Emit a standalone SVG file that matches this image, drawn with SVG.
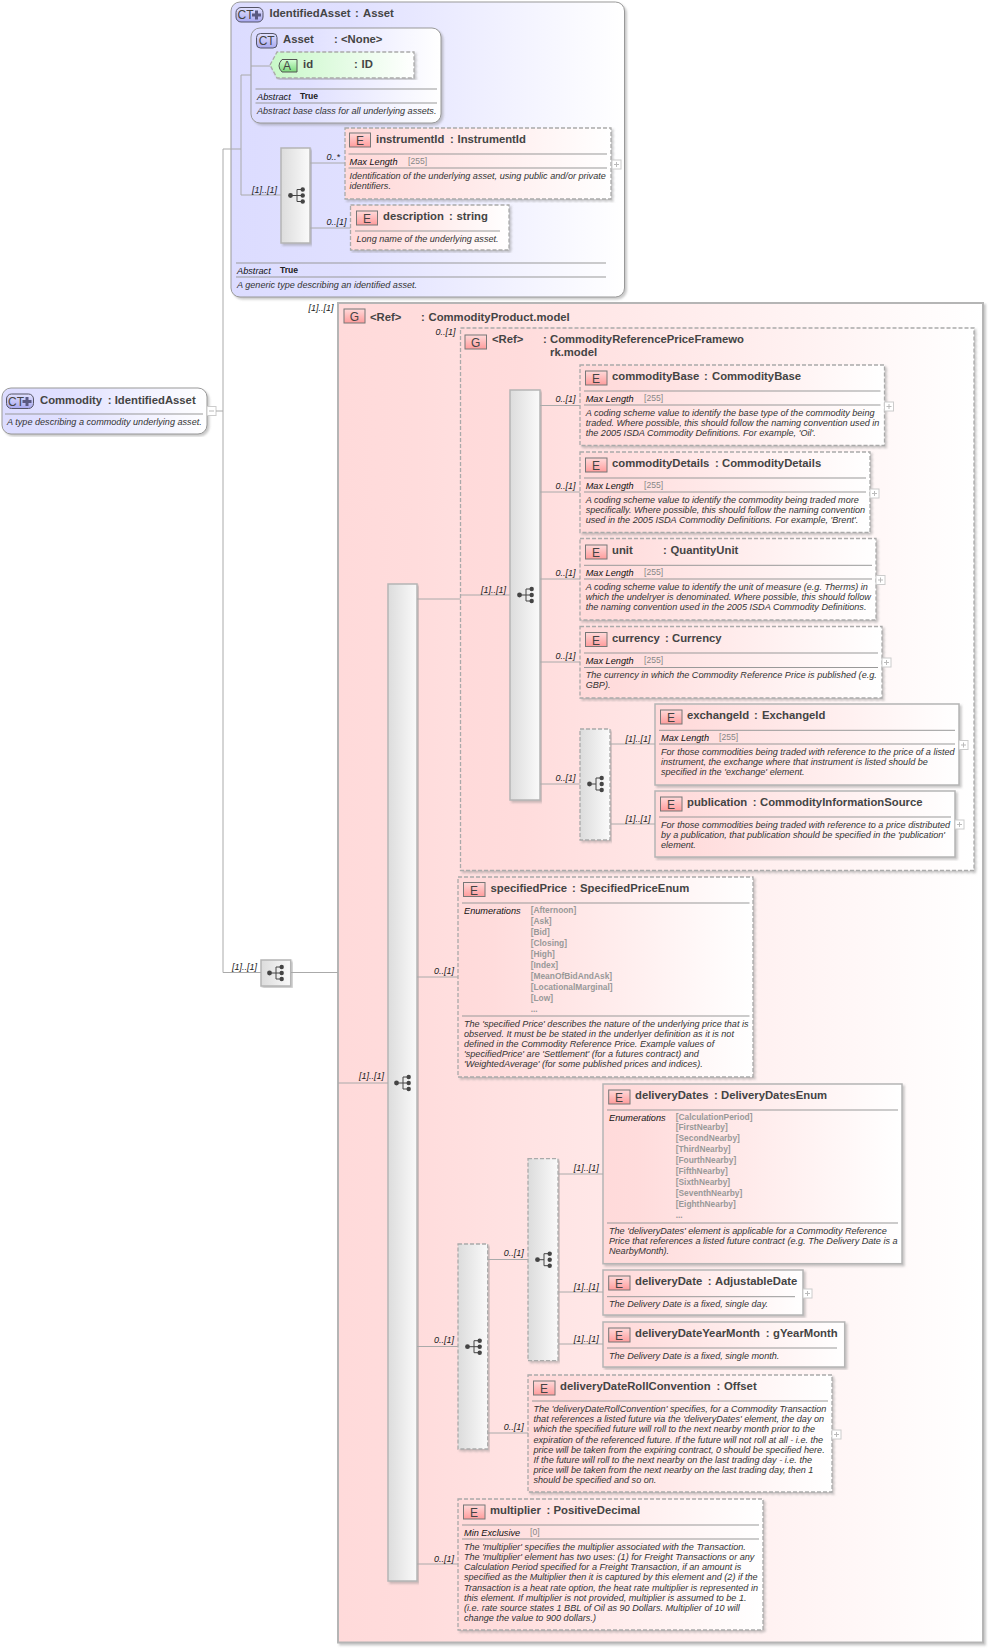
<svg xmlns="http://www.w3.org/2000/svg" width="989" height="1648" viewBox="0 0 989 1648">
<style>
text{font-family:"Liberation Sans",Arial,sans-serif}
.t{font-size:11.3px;font-weight:bold;fill:#444}
.d{font-size:9.1px;font-style:italic;fill:#333}
.k{font-size:9.2px;font-style:italic;fill:#111}
.v{font-size:8.6px;fill:#888}
.e{font-size:8.4px;font-weight:bold;fill:#999}
.b{font-size:8.6px;font-weight:bold;fill:#222}
.c{font-size:9px;font-style:italic;fill:#222}
.il{font-size:12px;fill:#444;text-anchor:middle}
.ln{fill:none;stroke:#aaa;stroke-width:1}
.r{stroke:#999;stroke-width:1}
.hr{stroke:#999;stroke-width:1}
.ds{stroke-dasharray:4 2;stroke:#aaa;stroke-width:1.3}
.so{stroke:#b5b5b5;stroke-width:1.5}
.pk{fill:url(#pk)}.lv{fill:url(#lv)}.gy{fill:url(#gy)}
.sh{filter:url(#sh)}
.ie{fill:url(#ie);stroke:#777;stroke-width:1}
.ict{fill:url(#ict);stroke:#556;stroke-width:1}
.ib{fill:#fff;stroke:#ccc;stroke-width:1}
.ibl{stroke:#bbb;stroke-width:1}
</style>
<defs>
<linearGradient id="pk"><stop offset="0" stop-color="#ffdada"/><stop offset=".12" stop-color="#ffdcdc"/><stop offset="1" stop-color="#fff"/></linearGradient>
<linearGradient id="lv"><stop offset="0" stop-color="#dcdcff"/><stop offset=".3" stop-color="#e0e0ff"/><stop offset="1" stop-color="#fff"/></linearGradient>
<linearGradient id="gn"><stop offset="0" stop-color="#c8f8c8"/><stop offset="1" stop-color="#fff"/></linearGradient>
<linearGradient id="gy"><stop offset="0" stop-color="#dcdcdc"/><stop offset="1" stop-color="#fafafa"/></linearGradient>
<linearGradient id="ie" x2="0" y2="1"><stop offset="0" stop-color="#ffdada"/><stop offset="1" stop-color="#ff9c9c"/></linearGradient>
<linearGradient id="ict" x2="0" y2="1"><stop offset="0" stop-color="#e2e2ff"/><stop offset="1" stop-color="#a8a8f0"/></linearGradient>
<linearGradient id="ia" x2="0" y2="1"><stop offset="0" stop-color="#d8ffd8"/><stop offset="1" stop-color="#7ad87a"/></linearGradient>
<filter id="sh" x="-5%" y="-5%" width="110%" height="110%"><feDropShadow dx="2" dy="2" stdDeviation="1" flood-color="#888" flood-opacity=".45"/></filter>
<g id="seq"><circle cx="-6.5" cy="0" r="2.4" fill="#444"/><path d="M-6 0H5.5M0 -6V6M0 -6H5.5M0 6H5.5" fill="none" stroke="#444" stroke-width="1"/><circle cx="5.7" cy="-6" r="2.2" fill="#444"/><circle cx="5.7" cy="0" r="2.2" fill="#444"/><circle cx="5.7" cy="6" r="2.2" fill="#444"/></g>
<g id="cho"><circle cx="-6.5" cy="0" r="2.4" fill="#444"/><path d="M-6 0H0M0 -6V6H5.5M0 -6H5.5" fill="none" stroke="#444" stroke-width="1"/><circle cx="5.7" cy="-6" r="2.2" fill="#444"/><circle cx="5.7" cy="0" r="2.2" fill="#444"/><circle cx="5.7" cy="6" r="2.2" fill="#444"/></g>
<g id="plus"><rect class="ib" width="9" height="9"/><path class="ibl" d="M2 4.5H7M4.5 2V7"/></g>
<g id="minus"><rect class="ib" width="9" height="9"/><path class="ibl" d="M2 4.5H7"/></g>
<path id="cross" d="M-1.5 -4.5H1.5V-1.5H4.5V1.5H1.5V4.5H-1.5V1.5H-4.5V-1.5H-1.5Z" fill="#5a5a82"/>
</defs>
<rect width="989" height="1648" fill="#fff"/>

<g id="node-commodity">
<rect class="lv r sh" x="2" y="388" width="205" height="46" rx="9"/>
<rect class="ict" x="6.5" y="394" width="27" height="14.5" rx="5"/><text class="il" x="16" y="405.5">CT</text><use href="#cross" transform="translate(27 401.5)"/>
<text class="t" x="40" y="403.5">Commodity<tspan x="107.7">:</tspan><tspan x="114.7">IdentifiedAsset</tspan></text>
<path class="hr" d="M5 414H203"/>
<text class="d" x="7" y="425">A type describing a commodity underlying asset.</text>
<use href="#minus" x="207" y="406.5"/>
</g>

<g id="node-identifiedasset">
<rect class="lv r sh" x="231" y="2" width="393.500" height="295" rx="9"/>
<rect class="ict" x="236" y="7.500" width="27" height="14.5" rx="5"/><text class="il" x="245.500" y="19">CT</text><use href="#cross" transform="translate(256.500 15)"/>
<text class="t" x="269.500" y="17">IdentifiedAsset<tspan x="355">:</tspan><tspan x="363">Asset</tspan></text>
<path class="hr" d="M236 263H606M236 277H606"/>
<text class="k" x="237" y="274">Abstract</text><text class="b" x="280" y="273">True</text>
<text class="d" x="237" y="288">A generic type describing an identified asset.</text>
</g>
<g id="node-asset">
<rect class="lv r sh" x="251" y="28" width="190" height="95" rx="9"/>
<rect class="ict" x="256.500" y="33.500" width="20.5" height="14.5" rx="4"/><text class="il" x="266.700" y="45">CT</text>
<text class="t" x="283" y="43">Asset<tspan x="334">:</tspan><tspan x="341">&lt;None&gt;</tspan></text>
<path class="hr" d="M255.500 89H437M255.500 103H437"/>
<text class="k" x="257" y="100">Abstract</text><text class="b" x="300" y="99">True</text>
<text class="d" x="257" y="114">Abstract base class for all underlying assets.</text>
</g>
<g id="node-id">
<path class="ds sh" fill="url(#gn)" d="M270 65L277 52H414V78H277Z"/>
<path d="M282 59.500H297V72H282Q276 66 282 59.500Z" fill="url(#ia)" stroke="#555"/><text class="il" x="287" y="70">A</text>
<text class="t" x="303" y="68">id<tspan x="354">:</tspan><tspan x="361.500">ID</tspan></text>
</g>
<g id="node-seq-asset">
<rect class="gy so sh" x="281" y="148" width="29" height="95"/><use href="#seq" x="297" y="195.500"/>
</g>
<g id="node-instrumentid">
<rect class="pk ds sh" x="345" y="128" width="266" height="71"/>
<rect class="ie" x="349.500" y="133" width="21" height="14"/><text class="il" x="360" y="145">E</text>
<text class="t" x="376" y="143">instrumentId<tspan x="450">:</tspan><tspan x="457.500">InstrumentId</tspan></text>
<path class="hr" d="M348.500 154H607M348.500 168H607"/>
<text class="k" x="349.500" y="165">Max Length</text><text class="v" x="408" y="164">[255]</text>
<text class="d" x="349.500" y="179">Identification of the underlying asset, using public and/or private</text>
<text class="d" x="349.500" y="189">identifiers.</text>
<use href="#plus" x="612" y="160"/>
</g>
<g id="node-description">
<rect class="pk ds sh" x="350.500" y="205" width="158.500" height="45"/>
<rect class="ie" x="356.500" y="211" width="21" height="14"/><text class="il" x="367" y="223">E</text>
<text class="t" x="383" y="220">description<tspan x="449">:</tspan><tspan x="456.500">string</tspan></text>
<path class="hr" d="M355 231H500"/>
<text class="d" x="356.500" y="242">Long name of the underlying asset.</text>
</g>

<g id="node-commodityproduct">
<rect class="pk sh" x="338" y="303" width="645" height="1339.500" stroke="#b5b5b5" stroke-width="2"/>
<rect class="ie" x="344" y="309" width="21" height="14"/><text class="il" x="354.500" y="321">G</text>
<text class="t" x="370" y="321">&lt;Ref&gt;<tspan x="421">:</tspan><tspan x="428.500">CommodityProduct.model</tspan></text>
</g>
<g id="node-seq-outer">
<rect class="gy so sh" x="388" y="584" width="29" height="997"/><use href="#seq" x="403" y="1083"/>
</g>
<g id="node-pricegroup">
<rect class="pk ds sh" x="460.500" y="328" width="513.500" height="542.500"/>
<rect class="ie" x="465" y="335" width="21.500" height="14"/><text class="il" x="475.700" y="347">G</text>
<text class="t" x="492" y="343">&lt;Ref&gt;<tspan x="543">:</tspan><tspan x="550">CommodityReferencePriceFramewo</tspan><tspan x="550" y="356">rk.model</tspan></text>
</g>
<g id="node-seq-price">
<rect class="gy so sh" x="510" y="390" width="30" height="410"/><use href="#seq" x="526" y="595"/>
</g>
<g id="node-commoditybase">
<rect class="pk ds sh" x="580" y="365" width="304.500" height="80.500"/>
<rect class="ie" x="585.500" y="371" width="21.500" height="14"/><text class="il" x="596" y="383">E</text>
<text class="t" x="612" y="380">commodityBase<tspan x="704">:</tspan><tspan x="712">CommodityBase</tspan></text>
<path class="hr" d="M584 391H880.500M584 405H880.500"/>
<text class="k" x="585.700" y="402">Max Length</text><text class="v" x="644" y="401">[255]</text>
<text class="d" x="585.700" y="416">A coding scheme value to identify the base type of the commodity being</text>
<text class="d" x="585.700" y="426">traded. Where possible, this should follow the naming convention used in</text>
<text class="d" x="585.700" y="436">the 2005 ISDA Commodity Definitions. For example, 'Oil'.</text>
<use href="#plus" x="884.500" y="402"/>
</g>
<g id="node-commoditydetails">
<rect class="pk ds sh" x="580" y="452" width="290" height="80.500"/>
<rect class="ie" x="585.500" y="458" width="21.500" height="14"/><text class="il" x="596" y="470">E</text>
<text class="t" x="612" y="467">commodityDetails<tspan x="715">:</tspan><tspan x="722">CommodityDetails</tspan></text>
<path class="hr" d="M584 478H866M584 492H866"/>
<text class="k" x="585.700" y="489">Max Length</text><text class="v" x="644" y="488">[255]</text>
<text class="d" x="585.700" y="503">A coding scheme value to identify the commodity being traded more</text>
<text class="d" x="585.700" y="513">specifically. Where possible, this should follow the naming convention</text>
<text class="d" x="585.700" y="523">used in the 2005 ISDA Commodity Definitions. For example, 'Brent'.</text>
<use href="#plus" x="870" y="489"/>
</g>
<g id="node-unit">
<rect class="pk ds sh" x="580" y="538.500" width="296" height="81.500"/>
<rect class="ie" x="585.500" y="545" width="21.500" height="14"/><text class="il" x="596" y="557">E</text>
<text class="t" x="612" y="554">unit<tspan x="663">:</tspan><tspan x="670.500">QuantityUnit</tspan></text>
<path class="hr" d="M584 565.300H872M584 579H872"/>
<text class="k" x="585.700" y="576">Max Length</text><text class="v" x="644" y="575">[255]</text>
<text class="d" x="585.700" y="590">A coding scheme value to identify the unit of measure (e.g. Therms) in</text>
<text class="d" x="585.700" y="600">which the undelryer is denominated. Where possible, this should follow</text>
<text class="d" x="585.700" y="610">the naming convention used in the 2005 ISDA Commodity Definitions.</text>
<use href="#plus" x="876" y="575.500"/>
</g>
<g id="node-currency">
<rect class="pk ds sh" x="580" y="626.500" width="302" height="71.500"/>
<rect class="ie" x="585.500" y="632.500" width="21.500" height="14"/><text class="il" x="596" y="644.500">E</text>
<text class="t" x="612" y="642">currency<tspan x="665">:</tspan><tspan x="672">Currency</tspan></text>
<path class="hr" d="M584 653H878M584 667.500H878"/>
<text class="k" x="585.700" y="664">Max Length</text><text class="v" x="644" y="663">[255]</text>
<text class="d" x="585.700" y="678">The currency in which the Commodity Reference Price is published (e.g.</text>
<text class="d" x="585.700" y="688">GBP).</text>
<use href="#plus" x="882" y="658"/>
</g>
<g id="node-choice-exchange">
<rect class="gy ds sh" x="580" y="729" width="30" height="111"/><use href="#cho" x="596" y="784"/>
</g>
<g id="node-exchangeid">
<rect class="pk so sh" x="655" y="704" width="304" height="81"/>
<rect class="ie" x="660.500" y="710" width="21.500" height="14"/><text class="il" x="671" y="722">E</text>
<text class="t" x="687" y="719">exchangeId<tspan x="754">:</tspan><tspan x="762">ExchangeId</tspan></text>
<path class="hr" d="M659 730.300H955M659 744H955"/>
<text class="k" x="661" y="741">Max Length</text><text class="v" x="719" y="740">[255]</text>
<text class="d" x="661" y="755">For those commodities being traded with reference to the price of a listed</text>
<text class="d" x="661" y="765">instrument, the exchange where that instrument is listed should be</text>
<text class="d" x="661" y="775">specified in the 'exchange' element.</text>
<use href="#plus" x="959" y="740.500"/>
</g>
<g id="node-publication">
<rect class="pk so sh" x="655" y="791" width="300" height="66"/>
<rect class="ie" x="660.500" y="797" width="21.500" height="14"/><text class="il" x="671" y="809">E</text>
<text class="t" x="687" y="806">publication<tspan x="752.700">:</tspan><tspan x="760">CommodityInformationSource</tspan></text>
<path class="hr" d="M659 817H951"/>
<text class="d" x="661" y="828">For those commodities being traded with reference to a price distributed</text>
<text class="d" x="661" y="838">by a publication, that publication should be specified in the 'publication'</text>
<text class="d" x="661" y="848">element.</text>
<use href="#plus" x="955" y="820"/>
</g>
<g id="node-specifiedprice">
<rect class="pk ds sh" x="458" y="877" width="295" height="200"/>
<rect class="ie" x="463.500" y="882.500" width="21.500" height="14"/><text class="il" x="474" y="894.500">E</text>
<text class="t" x="490.500" y="892">specifiedPrice<tspan x="572">:</tspan><tspan x="580">SpecifiedPriceEnum</tspan></text>
<path class="hr" d="M462 903H749.500M462 1016H749.500"/>
<text class="k" x="464" y="914">Enumerations</text>
<text class="e" x="530.700" y="913">[Afternoon]</text>
<text class="e" x="530.700" y="923.500">[Ask]</text>
<text class="e" x="530.700" y="934.500">[Bid]</text>
<text class="e" x="530.700" y="945.500">[Closing]</text>
<text class="e" x="530.700" y="956.500">[High]</text>
<text class="e" x="530.700" y="967.500">[Index]</text>
<text class="e" x="530.700" y="978.500">[MeanOfBidAndAsk]</text>
<text class="e" x="530.700" y="989.500">[LocationalMarginal]</text>
<text class="e" x="530.700" y="1000.500">[Low]</text>
<text class="e" x="530.700" y="1012">...</text>
<text class="d" x="464" y="1027">The 'specified Price' describes the nature of the underlying price that is</text>
<text class="d" x="464" y="1037">observed. It must be be stated in the underlyer definition as it is not</text>
<text class="d" x="464" y="1047">defined in the Commodity Reference Price. Example values of</text>
<text class="d" x="464" y="1057">'specifiedPrice' are 'Settlement' (for a futures contract) and</text>
<text class="d" x="464" y="1067">'WeightedAverage' (for some published prices and indices).</text>
</g>
<g id="node-seq-top">
<rect class="gy so sh" x="261" y="960" width="29.700" height="26"/><use href="#seq" x="276" y="973"/>
</g>
<g id="node-choice-delivery">
<rect class="gy ds sh" x="458" y="1244" width="29.700" height="205"/><use href="#seq" x="474" y="1346.700"/>
</g>
<g id="node-choice-dates">
<rect class="gy ds sh" x="528" y="1158.700" width="30" height="202"/><use href="#cho" x="544" y="1259.700"/>
</g>
<g id="node-deliverydates">
<rect class="pk so sh" x="603" y="1084" width="299" height="179.700"/>
<rect class="ie" x="608.700" y="1090" width="21.300" height="14"/><text class="il" x="619" y="1102">E</text>
<text class="t" x="635" y="1099">deliveryDates<tspan x="714">:</tspan><tspan x="721">DeliveryDatesEnum</tspan></text>
<path class="hr" d="M607 1110H898M607 1223H898"/>
<text class="k" x="609" y="1120.700">Enumerations</text>
<text class="e" x="675.700" y="1119.700">[CalculationPeriod]</text>
<text class="e" x="675.700" y="1130">[FirstNearby]</text>
<text class="e" x="675.700" y="1140.700">[SecondNearby]</text>
<text class="e" x="675.700" y="1151.700">[ThirdNearby]</text>
<text class="e" x="675.700" y="1162.700">[FourthNearby]</text>
<text class="e" x="675.700" y="1173.700">[FifthNearby]</text>
<text class="e" x="675.700" y="1184.700">[SixthNearby]</text>
<text class="e" x="675.700" y="1195.700">[SeventhNearby]</text>
<text class="e" x="675.700" y="1206.700">[EighthNearby]</text>
<text class="e" x="675.700" y="1218">...</text>
<text class="d" x="609" y="1234">The 'deliveryDates' element is applicable for a Commodity Reference</text>
<text class="d" x="609" y="1244">Price that references a listed future contract (e.g. The Delivery Date is a</text>
<text class="d" x="609" y="1254">NearbyMonth).</text>
</g>
<g id="node-deliverydate">
<rect class="pk so sh" x="603" y="1270" width="200" height="45"/>
<rect class="ie" x="608.700" y="1276" width="21.300" height="14"/><text class="il" x="619" y="1288">E</text>
<text class="t" x="635" y="1285">deliveryDate<tspan x="707.700">:</tspan><tspan x="715">AdjustableDate</tspan></text>
<path class="hr" d="M607 1296.700H795"/>
<text class="d" x="609" y="1307">The Delivery Date is a fixed, single day.</text>
<use href="#plus" x="803" y="1289"/>
</g>
<g id="node-deliverydateyearmonth">
<rect class="pk so sh" x="603" y="1322" width="241.700" height="45"/>
<rect class="ie" x="608.700" y="1328" width="21.300" height="14"/><text class="il" x="619" y="1340">E</text>
<text class="t" x="635" y="1337">deliveryDateYearMonth<tspan x="765.700">:</tspan><tspan x="773">gYearMonth</tspan></text>
<path class="hr" d="M607 1348H837"/>
<text class="d" x="609" y="1359">The Delivery Date is a fixed, single month.</text>
</g>
<g id="node-rollconvention">
<rect class="pk ds sh" x="528" y="1375" width="304" height="117"/>
<rect class="ie" x="533.500" y="1381" width="21.500" height="14"/><text class="il" x="544" y="1393">E</text>
<text class="t" x="560" y="1390">deliveryDateRollConvention<tspan x="716.600">:</tspan><tspan x="724">Offset</tspan></text>
<path class="hr" d="M532 1401H828"/>
<text class="d" x="533.500" y="1412">The 'deliveryDateRollConvention' specifies, for a Commodity Transaction</text>
<text class="d" x="533.500" y="1422">that references a listed future via the 'deliveryDates' element, the day on</text>
<text class="d" x="533.500" y="1432">which the specified future will roll to the next nearby month prior to the</text>
<text class="d" x="533.500" y="1442.500">expiration of the referenced future. If the future will not roll at all - i.e. the</text>
<text class="d" x="533.500" y="1452.500">price will be taken from the expiring contract, 0 should be specified here.</text>
<text class="d" x="533.500" y="1463">If the future will roll to the next nearby on the last trading day - i.e. the</text>
<text class="d" x="533.500" y="1473">price will be taken from the next nearby on the last trading day, then 1</text>
<text class="d" x="533.500" y="1483">should be specified and so on.</text>
<use href="#plus" x="832" y="1430"/>
</g>
<g id="node-multiplier">
<rect class="pk ds sh" x="458" y="1499" width="305" height="131"/>
<rect class="ie" x="463.500" y="1505" width="21.500" height="14"/><text class="il" x="474" y="1517">E</text>
<text class="t" x="490" y="1514">multiplier<tspan x="546.400">:</tspan><tspan x="553.500">PositiveDecimal</tspan></text>
<path class="hr" d="M462 1525H759M462 1539H759"/>
<text class="k" x="464" y="1536">Min Exclusive</text><text class="v" x="530" y="1535">[0]</text>
<text class="d" x="464" y="1550">The 'multiplier' specifies the multiplier associated with the Transaction.</text>
<text class="d" x="464" y="1560">The 'multiplier' element has two uses: (1) for Freight Transactions or any</text>
<text class="d" x="464" y="1570">Calculation Period specified for a Freight Transaction, if an amount is</text>
<text class="d" x="464" y="1580">specified as the Multiplier then it is captured by this element and (2) if the</text>
<text class="d" x="464" y="1590.500">Transaction is a heat rate option, the heat rate multiplier is represented in</text>
<text class="d" x="464" y="1600.500">this element. If multiplier is not provided, multiplier is assumed to be 1.</text>
<text class="d" x="464" y="1611">(i.e. rate source states 1 BBL of Oil as 90 Dollars. Multiplier of 10 will</text>
<text class="d" x="464" y="1621">change the value to 900 dollars.)</text>
</g>

<g id="connectors">
<path class="ln" d="M216 411H223M223 149V972.500M223 149H241M241 75V195M241 75H251M251 66H270M241 195H281M310 163H345M310 228H350.500M223 972.500H261M291 972.500H338M338 1083H388M417 599H460.500M460.500 595H510M540 405.500H580M540 492H580M540 579H580M540 662H580M540 784H580M610 744H655M610 824H655M417 977H458M417 1346.500H458M488 1259.500H528M558 1174H603M558 1292H603M558 1344H603M488 1433H528M417 1564H458"/>
<text class="c" x="252" y="193">[1]..[1]</text>
<text class="c" x="326.500" y="160">0..*</text>
<text class="c" x="326.500" y="225">0..[1]</text>
<text class="c" x="308.500" y="311">[1]..[1]</text>
<text class="c" x="435.500" y="335">0..[1]</text>
<text class="c" x="232" y="970">[1]..[1]</text>
<text class="c" x="359" y="1079">[1]..[1]</text>
<text class="c" x="481" y="593">[1]..[1]</text>
<text class="c" x="555.500" y="402">0..[1]</text>
<text class="c" x="555.500" y="489">0..[1]</text>
<text class="c" x="555.500" y="576">0..[1]</text>
<text class="c" x="555.500" y="659">0..[1]</text>
<text class="c" x="555.500" y="781">0..[1]</text>
<text class="c" x="625.500" y="741.500">[1]..[1]</text>
<text class="c" x="625.500" y="821.500">[1]..[1]</text>
<text class="c" x="434" y="974">0..[1]</text>
<text class="c" x="434" y="1343">0..[1]</text>
<text class="c" x="434" y="1561.500">0..[1]</text>
<text class="c" x="503.700" y="1256">0..[1]</text>
<text class="c" x="503.700" y="1430">0..[1]</text>
<text class="c" x="573.700" y="1171">[1]..[1]</text>
<text class="c" x="573.700" y="1290">[1]..[1]</text>
<text class="c" x="573.700" y="1342">[1]..[1]</text>
</g>
</svg>
